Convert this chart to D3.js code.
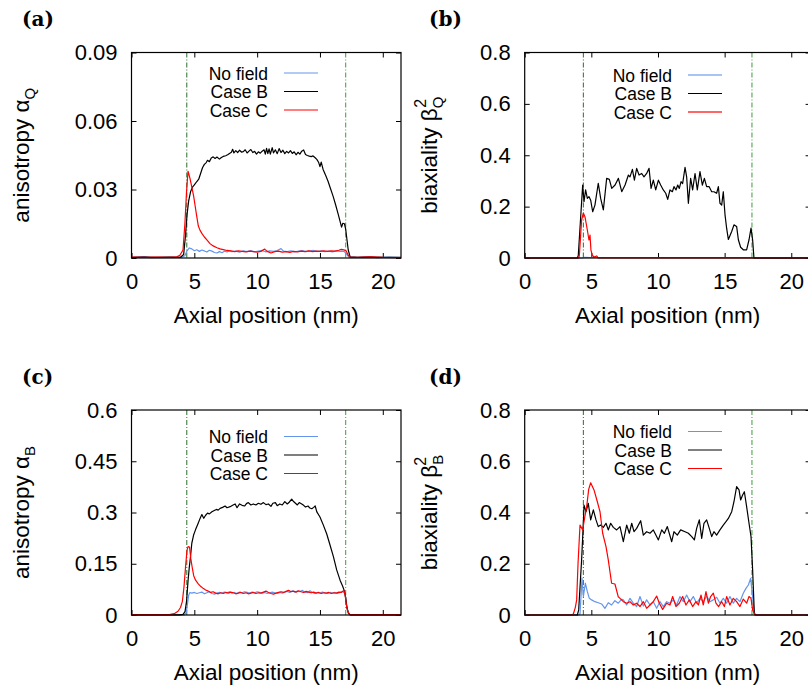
<!DOCTYPE html>
<html>
<head>
<meta charset="utf-8">
<script src="https://cdn.jsdelivr.net/npm/d3@7"></script>
<style>
  body { margin: 0; background: #fff; }
  svg { display: block; }
  text { font-family: "Liberation Sans", Arial, sans-serif; fill: #000; }
</style>
</head>
<body>
<script>
//data: [axial position nm, value]
var seriesNames = ['No field', 'Case B', 'Case C'];
var xTicks = [0, 5, 10, 15, 20];
var xTickLabels = ['0', '5', '10', '15', '20'];
var wallPositions = [4.4, 17.05];

var yTicksA = [0, 0.03, 0.06, 0.09];
var yLabelsA = ['0', '0.03', '0.06', '0.09'];
var yTicksB = [0, 0.2, 0.4, 0.6, 0.8];
var yLabelsB = ['0', '0.2', '0.4', '0.6', '0.8'];
var yTicksC = [0, 0.15, 0.3, 0.45, 0.6];
var yLabelsC = ['0', '0.15', '0.3', '0.45', '0.6'];
var yTicksD = [0, 0.2, 0.4, 0.6, 0.8];
var yLabelsD = ['0', '0.2', '0.4', '0.6', '0.8'];

var aNoField = [[0,0.0002],[1,0.0006],[1.5,0.0002],[3,0.0003],[4.0,0.0003],[4.25,0.0010],[4.4,0.0030],[4.6,0.0044],[4.8,0.0040],[5.0,0.0032],[5.2,0.0036],[5.4,0.0029],[5.6,0.0035],[5.8,0.0031],[6.0,0.0026],[6.2,0.0034],[6.4,0.0030],[6.6,0.0024],[6.8,0.0022],[7.0,0.0028],[7.2,0.0023],[7.4,0.0030],[7.6,0.0027],[7.8,0.0031],[8.0,0.0028],[8.3,0.0030],[8.6,0.0026],[8.9,0.0031],[9.2,0.0028],[9.5,0.0032],[9.8,0.0027],[10.1,0.0030],[10.4,0.0033],[10.7,0.0027],[11.0,0.0031],[11.3,0.0029],[11.6,0.0033],[11.9,0.0041],[12.1,0.0030],[12.4,0.0028],[12.7,0.0031],[13.0,0.0027],[13.3,0.0030],[13.6,0.0032],[13.9,0.0028],[14.2,0.0031],[14.5,0.0033],[14.8,0.0029],[15.1,0.0031],[15.4,0.0028],[15.7,0.0030],[16.0,0.0027],[16.3,0.0031],[16.6,0.0029],[16.9,0.0030],[17.1,0.0018],[17.3,0.0004],[18,0.0003],[19,0.0006],[19.5,0.0002],[20.5,0.0004],[21.45,0.0002]];
var aCaseB = [[0,0.0003],[1,0.0004],[2,0.0003],[3,0.0004],[3.9,0.0003],[4.15,0.0015],[4.3,0.010],[4.42,0.019],[4.55,0.025],[4.7,0.029],[4.85,0.031],[5.0,0.032],[5.2,0.0335],[5.35,0.0345],[5.5,0.037],[5.65,0.0395],[5.8,0.041],[5.95,0.0418],[6.05,0.0428],[6.2,0.0422],[6.35,0.0438],[6.5,0.0443],[6.65,0.0436],[6.8,0.0442],[7.0,0.0433],[7.15,0.0440],[7.3,0.0445],[7.5,0.0448],[7.65,0.0452],[7.8,0.0458],[7.95,0.0463],[8.05,0.0476],[8.15,0.0460],[8.3,0.0470],[8.45,0.0462],[8.6,0.0472],[8.75,0.0464],[8.9,0.0466],[9.05,0.0474],[9.2,0.0460],[9.35,0.0468],[9.5,0.0475],[9.65,0.0462],[9.8,0.0467],[9.95,0.0455],[10.1,0.0465],[10.25,0.0459],[10.4,0.0468],[10.55,0.0474],[10.65,0.0455],[10.75,0.0480],[10.85,0.0457],[10.95,0.0478],[11.05,0.0455],[11.2,0.0483],[11.3,0.0460],[11.45,0.0474],[11.6,0.0457],[11.75,0.0479],[11.9,0.0462],[12.05,0.0472],[12.2,0.0457],[12.35,0.0467],[12.5,0.0460],[12.65,0.0470],[12.8,0.0458],[12.95,0.0465],[13.1,0.0452],[13.25,0.0463],[13.4,0.0455],[13.55,0.0468],[13.7,0.0473],[13.85,0.0453],[14.0,0.0449],[14.15,0.0446],[14.3,0.0444],[14.45,0.0447],[14.6,0.0440],[14.75,0.0432],[14.9,0.0418],[15.0,0.0400],[15.1,0.0420],[15.25,0.0388],[15.45,0.0362],[15.65,0.0335],[15.85,0.0302],[16.05,0.0270],[16.25,0.0232],[16.45,0.0192],[16.6,0.0160],[16.72,0.0135],[16.82,0.0152],[16.95,0.0150],[17.05,0.0125],[17.15,0.0080],[17.25,0.0035],[17.4,0.0005],[18,0.0003],[19,0.0004],[20,0.0003],[21.45,0.0003]];
var aCaseC = [[0,0.0004],[1,0.0003],[2,0.0004],[3,0.0003],[3.6,0.0005],[3.85,0.0012],[4.1,0.0035],[4.25,0.015],[4.38,0.029],[4.5,0.038],[4.65,0.035],[4.8,0.031],[4.95,0.027],[5.06,0.023],[5.2,0.018],[5.32,0.014],[5.45,0.0122],[5.6,0.0108],[5.8,0.0092],[6.0,0.0079],[6.25,0.0063],[6.5,0.0053],[6.8,0.0045],[7.05,0.0040],[7.3,0.0037],[7.6,0.0033],[7.9,0.0031],[8.2,0.0028],[8.5,0.0031],[8.8,0.0029],[9.1,0.0027],[9.4,0.0030],[9.7,0.0028],[10.0,0.0026],[10.3,0.0029],[10.6,0.0039],[10.8,0.0029],[11.1,0.0022],[11.4,0.0028],[11.7,0.0030],[12.0,0.0026],[12.3,0.0028],[12.6,0.0025],[12.9,0.0029],[13.2,0.0027],[13.5,0.0030],[13.8,0.0028],[14.1,0.0031],[14.4,0.0028],[14.7,0.0030],[15.0,0.0029],[15.3,0.0031],[15.6,0.0029],[15.9,0.0031],[16.2,0.0030],[16.5,0.0034],[16.7,0.0038],[16.9,0.0036],[17.1,0.0030],[17.25,0.0012],[17.4,0.0004],[18,0.0003],[19,0.0005],[20,0.0003],[21.45,0.0002]];

var bNoField = [[0,0],[4.3,0],[4.5,0.003],[5,0.002],[17,0.002],[17.2,0],[21.45,0]];
var bCaseB = [[0,0],[3.95,0],[4.02,0.01],[4.35,0.284],[4.45,0.219],[4.57,0.265],[4.7,0.232],[4.82,0.239],[4.95,0.225],[5.1,0.180],[5.27,0.206],[5.52,0.291],[5.7,0.232],[5.9,0.187],[6.15,0.310],[6.35,0.306],[6.53,0.271],[6.78,0.284],[7.03,0.310],[7.28,0.258],[7.53,0.284],[7.78,0.323],[7.9,0.316],[8.08,0.345],[8.23,0.303],[8.4,0.349],[8.58,0.323],[8.78,0.329],[8.95,0.316],[9.15,0.329],[9.33,0.349],[9.48,0.271],[9.65,0.303],[9.83,0.265],[10.03,0.303],[10.2,0.284],[10.4,0.265],[10.58,0.252],[10.73,0.228],[10.9,0.265],[11.08,0.258],[11.2,0.278],[11.35,0.265],[11.48,0.284],[11.6,0.271],[11.73,0.297],[11.85,0.290],[12.03,0.353],[12.15,0.316],[12.28,0.213],[12.45,0.310],[12.6,0.265],[12.78,0.329],[12.95,0.265],[13.15,0.336],[13.33,0.284],[13.48,0.310],[13.65,0.278],[13.83,0.278],[14.03,0.258],[14.2,0.258],[14.4,0.252],[14.53,0.278],[14.65,0.213],[14.78,0.206],[14.9,0.258],[15.03,0.168],[15.15,0.116],[15.28,0.072],[15.53,0.103],[15.7,0.129],[15.9,0.123],[16.03,0.071],[16.2,0.042],[16.4,0.032],[16.65,0.032],[16.83,0.071],[16.98,0.116],[17.1,0.071],[17.2,0],[21.45,0]];
var bCaseC = [[0,0],[4.05,0],[4.1,0.01],[4.27,0.148],[4.4,0.175],[4.52,0.161],[4.7,0.109],[4.82,0.07],[4.9,0.089],[4.97,0.031],[5.07,0.011],[5.2,0.004],[5.4,0.008],[5.52,0],[21.45,0]];

var cNoField = [[0,0.0005],[4.2,0.0005],[4.35,0.006],[4.45,0.03],[4.55,0.058],[4.65,0.066],[4.8,0.064],[5.0,0.066],[5.2,0.063],[5.4,0.065],[5.6,0.067],[5.8,0.062],[6.0,0.065],[6.2,0.068],[6.4,0.063],[6.6,0.061],[6.8,0.064],[7.0,0.066],[7.2,0.064],[7.4,0.067],[7.6,0.065],[7.8,0.068],[8.0,0.064],[8.2,0.066],[8.4,0.063],[8.6,0.067],[8.8,0.065],[9.0,0.068],[9.2,0.066],[9.4,0.064],[9.6,0.067],[9.8,0.065],[10.0,0.068],[10.2,0.066],[10.4,0.064],[10.6,0.066],[10.8,0.063],[11.0,0.065],[11.2,0.067],[11.4,0.065],[11.6,0.063],[11.8,0.066],[12.0,0.064],[12.2,0.067],[12.4,0.069],[12.6,0.066],[12.8,0.071],[13.0,0.067],[13.2,0.070],[13.4,0.068],[13.6,0.072],[13.8,0.067],[14.0,0.065],[14.2,0.071],[14.4,0.066],[14.6,0.063],[14.8,0.066],[15.0,0.064],[15.2,0.067],[15.4,0.065],[15.6,0.063],[15.8,0.066],[16.0,0.064],[16.2,0.066],[16.4,0.063],[16.6,0.066],[16.8,0.069],[17.0,0.062],[17.1,0.03],[17.25,0.006],[17.4,0.0005],[21.45,0.0005]];
var cCaseB = [[0,0.0005],[3.8,0.0005],[4.1,0.002],[4.26,0.01],[4.38,0.04],[4.5,0.1],[4.6,0.14],[4.68,0.165],[4.8,0.21],[4.95,0.235],[5.1,0.25],[5.3,0.268],[5.45,0.282],[5.6,0.294],[5.75,0.283],[5.9,0.292],[6.05,0.298],[6.2,0.296],[6.4,0.302],[6.55,0.305],[6.75,0.309],[6.9,0.307],[7.05,0.312],[7.25,0.315],[7.45,0.319],[7.6,0.314],[7.85,0.317],[8.05,0.321],[8.25,0.325],[8.4,0.314],[8.6,0.325],[8.8,0.321],[9.0,0.319],[9.15,0.326],[9.3,0.329],[9.5,0.322],[9.7,0.325],[9.9,0.322],[10.1,0.327],[10.3,0.324],[10.5,0.329],[10.7,0.323],[10.9,0.325],[11.1,0.318],[11.25,0.327],[11.45,0.329],[11.6,0.32],[11.8,0.325],[12.0,0.322],[12.2,0.332],[12.4,0.325],[12.55,0.33],[12.75,0.339],[12.9,0.332],[13.05,0.327],[13.2,0.322],[13.35,0.329],[13.55,0.325],[13.7,0.321],[13.85,0.316],[14.05,0.319],[14.2,0.313],[14.35,0.311],[14.5,0.315],[14.62,0.319],[14.75,0.302],[15.0,0.287],[15.27,0.263],[15.54,0.237],[15.8,0.205],[16.07,0.171],[16.33,0.132],[16.6,0.102],[16.8,0.085],[16.95,0.07],[17.05,0.05],[17.15,0.022],[17.27,0.005],[17.4,0.0005],[21.45,0.0005]];
var cCaseC = [[0,0.001],[2,0.001],[3.0,0.001],[3.4,0.004],[3.7,0.011],[3.9,0.022],[4.05,0.04],[4.18,0.083],[4.3,0.14],[4.42,0.19],[4.5,0.2],[4.62,0.199],[4.72,0.165],[4.82,0.142],[4.95,0.115],[5.1,0.102],[5.3,0.092],[5.5,0.084],[5.7,0.078],[5.9,0.073],[6.1,0.070],[6.3,0.066],[6.5,0.068],[6.7,0.064],[6.9,0.062],[7.1,0.065],[7.3,0.063],[7.5,0.066],[7.7,0.064],[7.9,0.067],[8.1,0.065],[8.3,0.062],[8.5,0.064],[8.7,0.066],[8.9,0.063],[9.1,0.065],[9.3,0.062],[9.5,0.064],[9.7,0.066],[9.9,0.063],[10.1,0.065],[10.3,0.064],[10.5,0.067],[10.7,0.070],[10.9,0.066],[11.1,0.063],[11.3,0.061],[11.5,0.064],[11.7,0.066],[11.9,0.068],[12.1,0.066],[12.3,0.069],[12.5,0.072],[12.7,0.068],[12.9,0.070],[13.1,0.067],[13.3,0.071],[13.5,0.068],[13.7,0.066],[13.9,0.069],[14.1,0.067],[14.3,0.065],[14.5,0.067],[14.7,0.064],[14.9,0.066],[15.1,0.063],[15.3,0.065],[15.5,0.064],[15.7,0.066],[15.9,0.063],[16.1,0.065],[16.3,0.064],[16.5,0.067],[16.7,0.066],[16.9,0.072],[17.0,0.06],[17.1,0.03],[17.2,0.012],[17.35,0.002],[17.6,0.001],[21.45,0.001]];

var dNoField = [[0,0],[4.05,0],[4.15,0.004],[4.3,0.143],[4.4,0.072],[4.55,0.124],[4.7,0.091],[4.85,0.065],[5.02,0.059],[5.27,0.052],[5.52,0.048],[5.77,0.043],[6.02,0.026],[6.27,0.048],[6.52,0.039],[6.77,0.056],[7.02,0.046],[7.27,0.061],[7.4,0.059],[7.65,0.039],[7.9,0.065],[8.15,0.046],[8.4,0.033],[8.65,0.072],[8.9,0.035],[9.15,0.059],[9.4,0.039],[9.65,0.052],[9.9,0.026],[10.15,0.052],[10.4,0.033],[10.65,0.052],[10.9,0.046],[11.15,0.059],[11.4,0.039],[11.65,0.072],[11.9,0.052],[12.15,0.078],[12.4,0.052],[12.65,0.072],[12.9,0.046],[13.15,0.065],[13.4,0.052],[13.65,0.074],[13.9,0.052],[14.15,0.059],[14.4,0.069],[14.65,0.046],[14.9,0.065],[15.15,0.046],[15.4,0.072],[15.65,0.046],[15.9,0.065],[16.15,0.052],[16.4,0.085],[16.6,0.104],[16.78,0.117],[16.95,0.143],[17.1,0.072],[17.23,0],[21.45,0]];
var dCaseB = [[0,0],[3.95,0],[4.05,0.02],[4.27,0.215],[4.4,0.36],[4.45,0.429],[4.6,0.403],[4.77,0.436],[4.95,0.371],[5.15,0.41],[5.35,0.371],[5.52,0.345],[5.7,0.351],[5.9,0.342],[6.1,0.358],[6.27,0.332],[6.45,0.358],[6.65,0.342],[6.9,0.332],[7.15,0.345],[7.4,0.286],[7.65,0.351],[7.85,0.319],[8.03,0.358],[8.2,0.325],[8.4,0.338],[8.7,0.368],[8.9,0.312],[9.15,0.325],[9.4,0.319],[9.65,0.332],[10.03,0.293],[10.28,0.332],[10.48,0.319],[10.7,0.345],[11.03,0.286],[11.2,0.325],[11.45,0.312],[11.7,0.332],[12.03,0.325],[12.28,0.319],[12.53,0.306],[12.73,0.293],[12.9,0.338],[13.1,0.371],[13.28,0.299],[13.45,0.358],[13.65,0.371],[13.85,0.338],[14.03,0.306],[14.2,0.325],[14.4,0.312],[14.65,0.332],[14.9,0.351],[15.1,0.364],[15.28,0.377],[15.53,0.403],[15.7,0.442],[15.9,0.501],[16.08,0.488],[16.2,0.449],[16.35,0.468],[16.48,0.481],[16.65,0.423],[16.83,0.358],[16.98,0.306],[17.1,0.176],[17.23,0.006],[17.35,0],[21.45,0]];
var dCaseC = [[0,0],[3.5,0],[3.65,0.004],[3.8,0.03],[3.9,0.059],[4.0,0.2],[4.15,0.351],[4.35,0.332],[4.5,0.38],[4.65,0.423],[4.8,0.49],[4.95,0.516],[5.2,0.488],[5.45,0.442],[5.65,0.403],[5.85,0.319],[6.1,0.267],[6.27,0.215],[6.52,0.124],[6.77,0.121],[7.02,0.071],[7.15,0.065],[7.4,0.052],[7.65,0.046],[7.9,0.052],[8.15,0.039],[8.4,0.046],[8.65,0.033],[8.9,0.052],[9.15,0.026],[9.4,0.039],[9.65,0.052],[9.9,0.074],[10.1,0.046],[10.35,0.022],[10.65,0.046],[10.9,0.039],[11.1,0.072],[11.35,0.033],[11.6,0.046],[11.85,0.072],[12.1,0.039],[12.35,0.059],[12.6,0.033],[12.85,0.052],[13.03,0.039],[13.23,0.078],[13.4,0.039],[13.6,0.091],[13.78,0.046],[13.95,0.072],[14.15,0.085],[14.35,0.046],[14.55,0.033],[14.78,0.052],[14.98,0.033],[15.15,0.072],[15.4,0.039],[15.65,0.065],[15.9,0.052],[16.15,0.033],[16.4,0.062],[16.65,0.046],[16.83,0.072],[16.98,0.065],[17.1,0.02],[17.28,0],[21.45,0]];

//layout
var width = 808, height = 689;
var xMax = 21.45;
var colors = ['#6495ed', '#000000', '#ff0000'];

var panels = [
  { letter: '(a)', lx: 22, ly: 26, left: 131.5, right: 401, top: 52.5, bottom: 258,
    yMax: 0.09, yTicks: yTicksA, yLabels: yLabelsA, series: [aNoField, aCaseB, aCaseC],
    title: ['anisotropy \u03b1', 'Q', null], titleX: 29, legendX: 136.5, legendY: [20.5, 39, 57.5] },
  { letter: '(b)', lx: 429, ly: 26, left: 524.7, right: 810.6, top: 52.5, bottom: 258,
    yMax: 0.8, yTicks: yTicksB, yLabels: yLabelsB, series: [bNoField, bCaseB, bCaseC],
    title: ['biaxiality \u03b2', 'Q', '2'], titleX: 437, legendX: 147.3, legendY: [22.5, 41, 59.5], pale: true },
  { letter: '(c)', lx: 22, ly: 384, left: 131.5, right: 401, top: 410, bottom: 615,
    yMax: 0.6, yTicks: yTicksC, yLabels: yLabelsC, series: [cNoField, cCaseB, cCaseC],
    title: ['anisotropy \u03b1', 'B', null], titleX: 29, legendX: 136.5, legendY: [26.5, 45, 63.5] },
  { letter: '(d)', lx: 429, ly: 384, left: 524.7, right: 810.6, top: 410, bottom: 615,
    yMax: 0.8, yTicks: yTicksD, yLabels: yLabelsD, series: [dNoField, dCaseB, dCaseC],
    title: ['biaxiality \u03b2', 'B', '2'], titleX: 437, legendX: 147.3, legendY: [21.5, 40, 58.5] }
];

var svg = d3.select('body').append('svg')
  .attr('width', width).attr('height', height);

panels.forEach(drawPanel);

function drawPanel(p, i) {
  var x = d3.scaleLinear().domain([0, xMax]).range([p.left, p.right]);
  var y = d3.scaleLinear().domain([0, p.yMax]).range([p.bottom, p.top]);
  var g = svg.append('g');

  g.append('clipPath').attr('id', 'clip' + i)
    .append('rect')
    .attr('x', p.left).attr('y', p.top - 1)
    .attr('width', p.right - p.left).attr('height', p.bottom - p.top + 2);

  //panel letter
  g.append('text')
    .attr('x', p.lx).attr('y', p.ly)
    .style('font-family', '"DejaVu Serif", serif')
    .style('font-weight', 'bold')
    .style('font-size', '20px')
    .text(p.letter);

  //axes with inward ticks, mirrored
  g.append('g').attr('transform', 'translate(0,' + p.bottom + ')')
    .call(d3.axisBottom(x).tickValues(xTicks)
      .tickFormat(function(d, k) { return xTickLabels[k]; })
      .tickSizeInner(-5).tickSizeOuter(0).tickPadding(15.5));
  g.append('g').attr('transform', 'translate(' + p.left + ',0)')
    .call(d3.axisLeft(y).tickValues(p.yTicks)
      .tickFormat(function(d, k) { return p.yLabels[k]; })
      .tickSizeInner(-5).tickSizeOuter(0).tickPadding(14));
  g.append('g').attr('transform', 'translate(0,' + p.top + ')')
    .call(d3.axisTop(x).tickValues(xTicks).tickFormat('').tickSizeInner(-5).tickSizeOuter(0));
  g.append('g').attr('transform', 'translate(' + p.right + ',0)')
    .call(d3.axisRight(y).tickValues(p.yTicks).tickFormat('').tickSizeInner(-5).tickSizeOuter(0));

  g.selectAll('.domain').remove();
  g.selectAll('.tick line').attr('stroke', '#000').attr('stroke-width', 1);
  g.selectAll('.tick text')
    .style('font-family', '"Liberation Sans", Arial, sans-serif')
    .style('font-size', '22px').attr('fill', '#000');

  //wall positions
  g.selectAll('.wall').data(wallPositions).enter()
    .append('line')
    .attr('class', 'wall')
    .attr('x1', function(d) { return x(d); }).attr('x2', function(d) { return x(d); })
    .attr('y1', p.top).attr('y2', p.bottom)
    .attr('stroke', function(d, k) { return k == 0 ? '#2a6e2a' : '#3c9c3c'; })
    .attr('stroke-width', 1)
    .attr('stroke-dasharray', '5,2,1,2');

  //curves
  var line = d3.line()
    .x(function(d) { return x(d[0]); })
    .y(function(d) { return y(d[1]); });
  g.append('g').attr('clip-path', 'url(#clip' + i + ')')
    .selectAll('path').data(p.series).enter()
    .append('path')
    .attr('d', line)
    .attr('fill', 'none')
    .attr('stroke', function(d, k) { return colors[k]; })
    .attr('stroke-width', 1.2)
    .attr('stroke-linejoin', 'round');

  //frame
  g.append('rect')
    .attr('x', p.left).attr('y', p.top)
    .attr('width', p.right - p.left).attr('height', p.bottom - p.top)
    .attr('fill', 'none').attr('stroke', '#000').attr('stroke-width', 1.2);

  //legend
  var legend = g.append('g');
  seriesNames.forEach(function(name, k) {
    var ly = p.top + p.legendY[k];
    legend.append('text')
      .attr('x', p.left + p.legendX).attr('y', ly + 6.5)
      .attr('text-anchor', 'end')
      .style('font-size', '17.5px')
      .text(name);
    legend.append('line')
      .attr('x1', p.left + p.legendX + 16).attr('x2', p.left + p.legendX + 50)
      .attr('y1', ly).attr('y2', ly)
      .attr('stroke', p.pale && k != 1 ? (k == 0 ? '#a8c4f4' : '#ff6666') : colors[k])
      .attr('stroke-width', p.pale && k != 1 ? 2 : 1.2);
  });

  //axis titles
  g.append('text')
    .attr('x', (p.left + p.right) / 2).attr('y', p.bottom + 65)
    .attr('text-anchor', 'middle')
    .style('font-size', '22.5px')
    .text('Axial position (nm)');

  var ty = g.append('text')
    .attr('transform', 'translate(' + p.titleX + ',' + (p.top + p.bottom) / 2 + ') rotate(-90)')
    .attr('text-anchor', 'middle')
    .style('font-size', '22.5px');
  ty.append('tspan').text(p.title[0]);
  ty.append('tspan').attr('dy', 6).style('font-size', '15px').text(p.title[1]);
  if(p.title[2]) {
    ty.append('tspan').attr('dx', -11).attr('dy', -17).style('font-size', '16px').text(p.title[2]);
  }
}
</script>
</body>
</html>
